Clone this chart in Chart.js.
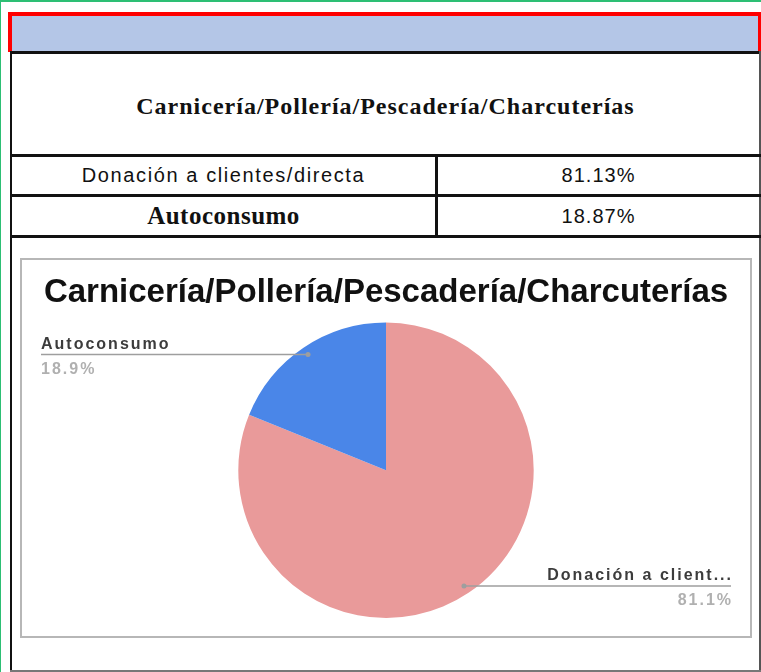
<!DOCTYPE html>
<html>
<head>
<meta charset="utf-8">
<script src="https://cdn.jsdelivr.net/npm/chart.js@4"></script>
<style>
  html, body { margin: 0; padding: 0; background: #fff; }
  #page { position: relative; width: 761px; height: 672px; overflow: hidden; }
  .bar { position: absolute; }
  .cell {
    position: absolute; display: flex; align-items: center; justify-content: center;
    color: #111; white-space: nowrap;
  }
  .serif { font-family: "Liberation Serif", "Times New Roman", serif; font-weight: bold; }
  .sans { font-family: "Liberation Sans", Arial, sans-serif; }
  #chartBox { position: absolute; left: 20px; top: 258px; width: 728px; height: 376px; border: 2px solid #b7b7b7; }
</style>
</head>
<body>
<div id="page">
  <!-- marco verde -->
  <div class="bar" style="left:0;top:0;width:761px;height:2px;background:#2dbf74"></div>
  <div class="bar" style="left:0;top:0;width:1px;height:672px;background:#2dbf74"></div>
  <!-- cabecera azul con borde rojo -->
  <div class="bar" style="left:8px;top:12px;width:753px;height:40px;background:#ff0000"></div>
  <div class="bar" style="left:12px;top:16px;width:746px;height:36px;background:#b4c6e7"></div>
  <!-- tabla -->
  <div class="bar" style="left:10px;top:51px;width:751px;height:3px;background:#111"></div>
  <div class="bar" style="left:10px;top:51px;width:2px;height:621px;background:#111"></div>
  <div class="bar" style="left:759px;top:51px;width:2px;height:621px;background:#555"></div>
  <div class="bar" style="left:10px;top:154px;width:751px;height:3px;background:#111"></div>
  <div class="bar" style="left:10px;top:194px;width:751px;height:3px;background:#111"></div>
  <div class="bar" style="left:10px;top:235px;width:751px;height:3px;background:#111"></div>
  <div class="bar" style="left:435px;top:154px;width:3px;height:84px;background:#111"></div>
  <div class="bar" style="left:10px;top:670px;width:751px;height:2px;background:#777"></div>

  <div class="cell serif" id="tblTitle" style="left:12px;top:56px;width:747px;height:100px;font-size:24px;letter-spacing:1px"></div>
  <div class="cell sans" id="r1c1" style="left:12px;top:157px;width:423px;height:37px;font-size:20px;letter-spacing:1.6px"></div>
  <div class="cell sans" id="r1c2" style="left:438px;top:157px;width:321px;height:37px;font-size:20px;letter-spacing:1px"></div>
  <div class="cell serif" id="r2c1" style="left:12px;top:197px;width:423px;height:38px;font-size:25px;letter-spacing:0.5px"></div>
  <div class="cell sans" id="r2c2" style="left:438px;top:197px;width:321px;height:38px;font-size:20px;letter-spacing:1px"></div>

  <div id="chartBox"><canvas id="pieChart" width="728" height="376"></canvas></div>
</div>

<script>
// ----------------- datos -----------------
const TITLE = "Carnicería/Pollería/Pescadería/Charcuterías";
const CATEGORIES = ["Donación a clientes/directa", "Autoconsumo"];
const PERCENTS = [81.13, 18.87];
const COLORS = ["#e99a9a", "#4a86e8"];

// ----------------- tabla -----------------
function fillTable() {
  document.getElementById("tblTitle").textContent = TITLE;
  document.getElementById("r1c1").textContent = CATEGORIES[0];
  document.getElementById("r1c2").textContent = PERCENTS[0].toFixed(2) + "%";
  document.getElementById("r2c1").textContent = CATEGORIES[1];
  document.getElementById("r2c2").textContent = PERCENTS[1].toFixed(2) + "%";
}

function shortLabel(txt, max) {
  return txt.length > max ? txt.slice(0, max) + "..." : txt;
}

// etiquetas con linea guia, al estilo de Google Sheets
const leaderLabels = {
  id: "leaderLabels",
  afterDatasetsDraw(chart) {
    const ctx = chart.ctx;
    const meta = chart.getDatasetMeta(0);
    const total = PERCENTS.reduce((a, b) => a + b, 0);
    meta.data.forEach((arc, i) => {
      const mid = (arc.startAngle + arc.endAngle) / 2;
      const r = arc.outerRadius * 0.945;
      const px = arc.x + Math.cos(mid) * r;
      const py = arc.y + Math.sin(mid) * r;
      const left = px < arc.x;
      const edge = left ? 19 : chart.width - 19;

      ctx.save();
      ctx.strokeStyle = "#9e9e9e";
      ctx.lineWidth = 1.5;
      ctx.beginPath();
      ctx.moveTo(edge, py);
      ctx.lineTo(px, py);
      ctx.stroke();
      ctx.fillStyle = "#9e9e9e";
      ctx.beginPath();
      ctx.arc(px, py, 2.5, 0, Math.PI * 2);
      ctx.fill();

      ctx.textAlign = left ? "left" : "right";
      ctx.textBaseline = "alphabetic";
      ctx.letterSpacing = "2px";
      ctx.font = "bold 16px 'Liberation Sans', Arial, sans-serif";
      ctx.fillStyle = "#3c3c3c";
      ctx.fillText(shortLabel(CATEGORIES[i], 17), edge + (left ? 0 : 2), py - 6);
      ctx.fillStyle = "#b0b0b0";
      ctx.fillText((PERCENTS[i] / total * 100).toFixed(1) + "%", edge + (left ? 0 : 2), py + 19);
      ctx.restore();
    });
  },
};

function renderPie() {
  const ctx = document.getElementById("pieChart").getContext("2d");
  new Chart(ctx, {
    type: "pie",
    data: {
      labels: CATEGORIES,
      datasets: [{ data: PERCENTS, backgroundColor: COLORS, borderWidth: 0 }],
    },
    options: {
      animation: false,
      responsive: false,
      maintainAspectRatio: false,
      layout: { padding: { bottom: 18 } },
      plugins: {
        legend: { display: false },
        tooltip: { enabled: false },
        title: {
          display: true,
          text: TITLE,
          color: "#111",
          font: { family: "'Liberation Sans', Arial, sans-serif", size: 33, weight: "bold" },
          padding: { top: 13, bottom: 10 },
        },
      },
    },
    plugins: [leaderLabels],
  });
}

window.addEventListener("DOMContentLoaded", () => {
  fillTable();
  renderPie();
});
</script>
</body>
</html>
